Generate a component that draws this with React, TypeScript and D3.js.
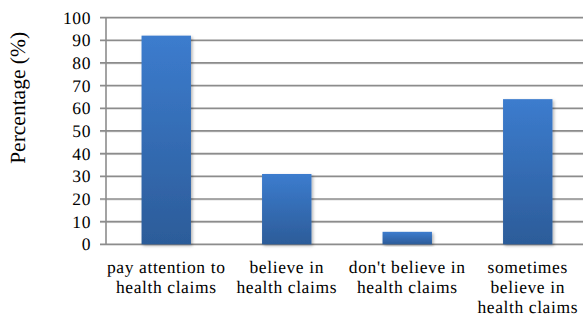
import React from "react";
import * as d3 from "d3";

const categories = [
  "pay attention to health claims",
  "believe in health claims",
  "don't believe in health claims",
  "sometimes believe in health claims",
];
const categoryLines = [
  ["pay attention to", "health claims"],
  ["believe in", "health claims"],
  ["don't believe in", "health claims"],
  ["sometimes", "believe in", "health claims"],
];
const percentages = [92, 31, 5.5, 64];
const yTicks = [0, 10, 20, 30, 40, 50, 60, 70, 80, 90, 100];
const yTitle = "Percentage (%)";

const W = 583;
const H = 320;
const FONT = "'Liberation Serif', 'Times New Roman', serif";

export default function App() {
  const x = d3
    .scaleBand<string>()
    .domain(categories)
    .range([106, 588])
    .paddingInner(0.59)
    .paddingOuter(0.295);
  const y = d3.scaleLinear().domain([0, 100]).range([244.3, 17.5]);

  const labelStyle: React.CSSProperties = {
    fontFamily: FONT,
    fontSize: "17.5px",
    letterSpacing: "0.6px",
    textRendering: "geometricPrecision",
  };

  return (
    <svg
      width={W}
      height={H}
      style={{ position: "fixed", left: 0, top: 0, background: "#fff" }}
    >
      <defs>
        <linearGradient id="barFill" x1="0" y1="0" x2="0" y2="1">
          <stop offset="0%" stopColor="#3c7cce" />
          <stop offset="100%" stopColor="#2c5c99" />
        </linearGradient>
        <filter id="barShadow" x="-20%" y="-20%" width="140%" height="140%">
          <feDropShadow dx="1.5" dy="1.5" stdDeviation="1.6" floodColor="#000" floodOpacity="0.3" />
        </filter>
      </defs>

      {/* horizontal gridlines with tick stubs left of the axis */}
      {yTicks.map((t) => (
        <g key={t}>
          <line x1={100} x2={W} y1={y(t) + 1} y2={y(t) + 1} stroke="#d8d8d8" strokeWidth={1} />
          <line x1={100} x2={W} y1={y(t)} y2={y(t)} stroke="#8c8c8c" strokeWidth={1.6} />
        </g>
      ))}
      {/* vertical axis */}
      <line x1={106} x2={106} y1={y(100)} y2={y(0)} stroke="#8c8c8c" strokeWidth={1.6} />

      {/* bars */}
      {categories.map((c, i) => (
        <rect
          key={c}
          x={x(c)}
          y={y(percentages[i])}
          width={x.bandwidth()}
          height={y(0) - y(percentages[i])}
          fill="url(#barFill)"
          filter="url(#barShadow)"
        />
      ))}

      {/* y tick labels */}
      {yTicks.map((t) => (
        <text
          key={t}
          x={91}
          y={y(t) + 6}
          textAnchor="end"
          style={labelStyle}
          fill="#000"
        >
          {t}
        </text>
      ))}

      {/* category labels */}
      {categories.map((c, i) => {
        const cx = (x(c) as number) + x.bandwidth() / 2;
        return categoryLines[i].map((ln, j) => (
          <text
            key={c + j}
            x={cx}
            y={273 + j * 20}
            textAnchor="middle"
            style={labelStyle}
            fill="#000"
          >
            {ln}
          </text>
        ));
      })}

      {/* y axis title */}
      <text
        transform={`translate(25,${(y(0) + y(100)) / 2 - 33}) rotate(-90)`}
        textAnchor="middle"
        style={{ fontFamily: FONT, fontSize: "21.5px", textRendering: "geometricPrecision" }}
        fill="#000"
      >
        {yTitle}
      </text>
    </svg>
  );
}
